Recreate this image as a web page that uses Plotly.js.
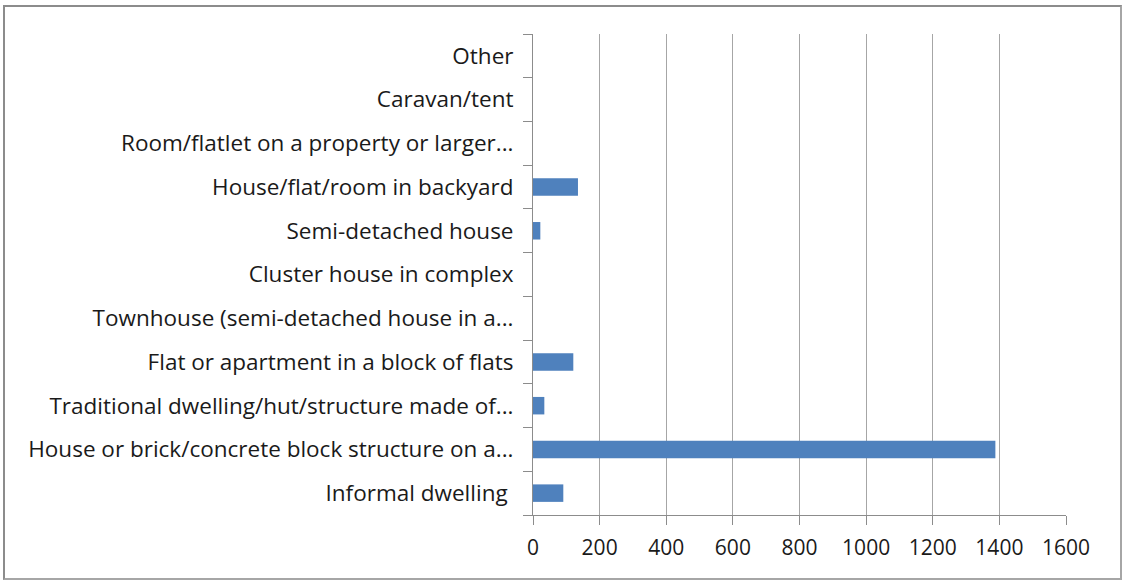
<!DOCTYPE html>
<html>
<head>
<meta charset="utf-8">
<script src="https://cdn.plot.ly/plotly-3.0.1.min.js"></script>
<style>
html,body{margin:0;padding:0;background:#fff;}
#wrap{position:relative;width:1123px;height:581px;}
#chart{position:absolute;left:0;top:0;width:1123px;height:581px;}
#frame{position:absolute;left:3px;top:5px;width:1115px;height:571px;border:2px solid #8c8c8c;border-bottom-color:#a6a6a6;border-right-color:#a6a6a6;pointer-events:none;}
</style>
</head>
<body>
<div id="wrap"><div id="chart"></div><div id="frame"></div></div>
<script>
const categories = [
  "Informal dwelling ",
  "House or brick/concrete block structure on a...",
  "Traditional dwelling/hut/structure made of...",
  "Flat or apartment in a block of flats",
  "Townhouse (semi-detached house in a...",
  "Cluster house in complex",
  "Semi-detached house",
  "House/flat/room in backyard",
  "Room/flatlet on a property or larger...",
  "Caravan/tent",
  "Other"
];
const values = [91, 1388, 34, 121, 0, 0, 22, 135, 0, 0, 0];
const xTicks = [0, 200, 400, 600, 800, 1000, 1200, 1400, 1600];

const font = "'Open Sans', 'Noto Sans', sans-serif";

Plotly.newPlot("chart", [{
  type: "bar",
  orientation: "h",
  y: categories,
  x: values,
  marker: {color: "#4f81bd", line: {color: "#4f81bd", width: 0}},
  hoverinfo: "x+y"
}], {
  width: 1123, height: 581,
  margin: {l: 533, r: 57, t: 34, b: 66},
  paper_bgcolor: "#fff", plot_bgcolor: "#fff",
  bargap: 0.6,
  showlegend: false,
  font: {family: font, size: 20, color: "#1a1a1a"},
  xaxis: {
    range: [0, 1600],
    tickvals: xTicks,
    ticktext: xTicks.map(String),
    showgrid: true, gridcolor: "#a6a6a6", gridwidth: 1,
    zeroline: false,
    showline: true, linecolor: "#8c8c8c", linewidth: 1,
    ticks: "outside", ticklen: 9, tickcolor: "#8c8c8c",
    ticklabelstandoff: 5,
    tickfont: {family: font, size: 21, color: "#1a1a1a"},
    fixedrange: true
  },
  yaxis: {
    type: "category",
    categoryorder: "array", categoryarray: categories,
    showgrid: false, zeroline: false,
    showline: true, linecolor: "#8c8c8c", linewidth: 1,
    ticks: "outside", ticklen: 9, tickcolor: "#8c8c8c",
    tickson: "boundaries",
    ticklabelstandoff: 14,
    tickfont: {family: font, size: 22.5, color: "#1a1a1a"},
    fixedrange: true
  }
}, {displayModeBar: false, staticPlot: true});
</script>
</body>
</html>
